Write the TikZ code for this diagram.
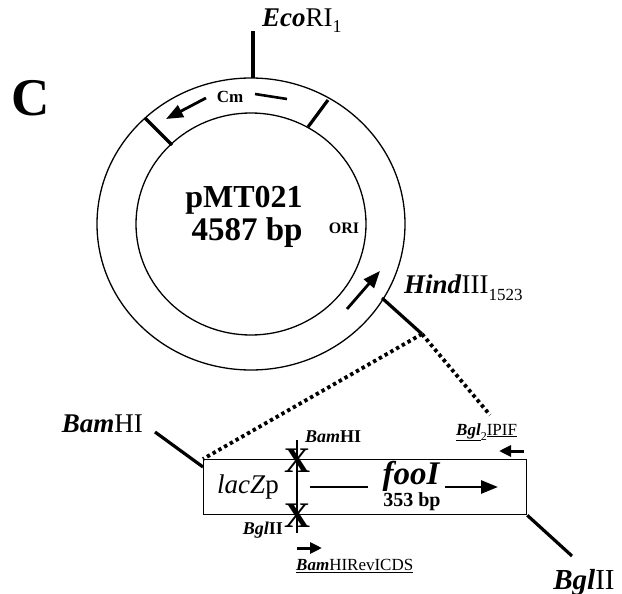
\documentclass[tikz,border=0pt]{standalone}
\usepackage{fontspec}
\setmainfont{Liberation Serif}
\usetikzlibrary{arrows.meta}
\newcommand{\fsz}[1]{\fontsize{#1}{#1}\selectfont}
\newcommand{\lowsub}[3]{\raisebox{-#1pt}{\fsz{#2}#3}}
\begin{document}
\begin{tikzpicture}[x=1pt,y=-1pt,
  thinline/.style={line width=1.3pt},
  thickline/.style={line width=3.2pt},
  dotline/.style={line width=3.8pt, dash pattern=on 3.4pt off 3.2pt},
  arrbig/.style={line width=2.8pt, -{Triangle[length=17pt,width=13pt]}},
  arrsmall/.style={line width=3pt, -{Triangle[length=12pt,width=11pt]}},
  enz/.style={inner sep=0pt, font=\fsz{27}},
  small/.style={inner sep=0pt, font=\fsz{17}},
]
\useasboundingbox (0,0) rectangle (622,594);

% panel letter
\node[inner sep=0pt, font=\fsz{53}\bfseries] (C) at (31,98) {C};

% plasmid
\coordinate (O) at (251,224);
\draw[thinline] (O) ellipse [x radius=154pt, y radius=146pt];
\draw[thinline] (O) ellipse [x radius=115pt, y radius=111pt];
\draw[thickline] (145,118) -- (172,145);
\draw[thickline] (328,100) -- (308,127);

% EcoRI
\coordinate (ecobot) at (253,78);
\coordinate (ecotop) at (253,31);
\draw[thickline] (ecobot) -- (ecotop);
\node[enz, anchor=base west] (eco) at (262,27) {\textbf{\textit{Eco}}RI\lowsub{6}{18}{1}};

% Cm
\node[inner sep=0pt, font=\fsz{17}\bfseries] (cm) at (230,97) {Cm};
\coordinate (cmA) at (206,98);
\coordinate (cmB) at (166,119);
\draw[arrbig] (cmA) -- (cmB);
\coordinate (cmC) at (255,94);
\coordinate (cmD) at (287,99);
\draw[line width=2.6pt] (cmC) -- (cmD);

% centre texts
\node[inner sep=0pt, anchor=base, font=\fsz{32}\bfseries] (name) at (244,207) {pMT021};
\node[inner sep=0pt, anchor=base, font=\fsz{33}\bfseries] (size) at (247,240) {4587 bp};

% ORI
\node[inner sep=0pt, font=\fsz{16}\bfseries] (ori) at (344,228) {ORI};
\coordinate (oriA) at (347,309);
\coordinate (oriB) at (380,271);
\draw[arrbig] (oriA) -- (oriB);

% HindIII
\coordinate (hindA) at (382,298);
\coordinate (hind) at (422,334);
\draw[thickline] (hindA) -- (hind);
\node[enz, anchor=base west] (hindlbl) at (404,293) {\textbf{\textit{Hind}}III\lowsub{7}{17}{1523}};

% insert box
\node[draw, thinline, anchor=north west, inner sep=0pt, minimum width=323pt, minimum height=55pt] (box) at (203,459) {};
\coordinate (primer) at (490,415);
\draw[dotline] (hind) -- (box.north west);
\draw[dotline] (hind) -- (primer);

% divider with X marks
\coordinate (dtop) at (297,440);
\coordinate (dbot) at (297,533);
\draw[line width=1.8pt] (dtop) -- (dbot);
\node[inner sep=0pt, font=\fsz{36}\bfseries] (x1) at (297,461) {X};
\node[inner sep=0pt, font=\fsz{36}\bfseries] (x2) at (297,516) {X};
\node[small, anchor=west, font=\fsz{18}\bfseries] (bamS) at (305,437) {\textit{Bam}HI};
\node[small, anchor=east, font=\fsz{18}\bfseries] (bglS) at (283,530) {\textit{Bgl}II};

% box contents
\node[inner sep=0pt, font=\fsz{27}] (lac) at (248,487) {\textit{lacZ}p};
\node[inner sep=0pt, font=\fsz{33}\bfseries\itshape] (foo) at (411,476) {fooI};
\node[inner sep=0pt, font=\fsz{20}\bfseries] (bp) at (412,502) {353 bp};
\coordinate (fa) at (310,487);
\coordinate (fb) at (368,487);
\coordinate (fc) at (445,487);
\coordinate (fd) at (498,487);
\draw[line width=2.6pt] (fa) -- (fb);
\draw[arrbig] (fc) -- (fd);

% primers
\coordinate (p1a) at (297,548);
\coordinate (p1b) at (322,548);
\draw[arrsmall] (p1a) -- (p1b);
\node[small, anchor=west] (rev) at (296,566) {\underline{\textbf{\textit{Bam}}HIRevICDS}};
\node[small, anchor=west] (fwd) at (456,432) {\underline{\textbf{\textit{Bgl}}}\lowsub{5}{12}{2}\underline{IPIF}};
\coordinate (p2a) at (524,451);
\coordinate (p2b) at (499,451);
\draw[arrsmall] (p2a) -- (p2b);

% flanking enzymes
\node[enz, anchor=base east] (bamL) at (143,432) {\textbf{\textit{Bam}}HI};
\coordinate (bamA) at (155,432);
\coordinate (bamB) at (203,467);
\draw[thickline] (bamA) -- (bamB);
\node[enz, anchor=base, font=\fsz{29}] (bglL) at (584,589) {\textbf{\textit{Bgl}}II};
\coordinate (bglE) at (572,556);
\draw[thickline] (box.south east) -- (bglE);
\end{tikzpicture}
\end{document}
